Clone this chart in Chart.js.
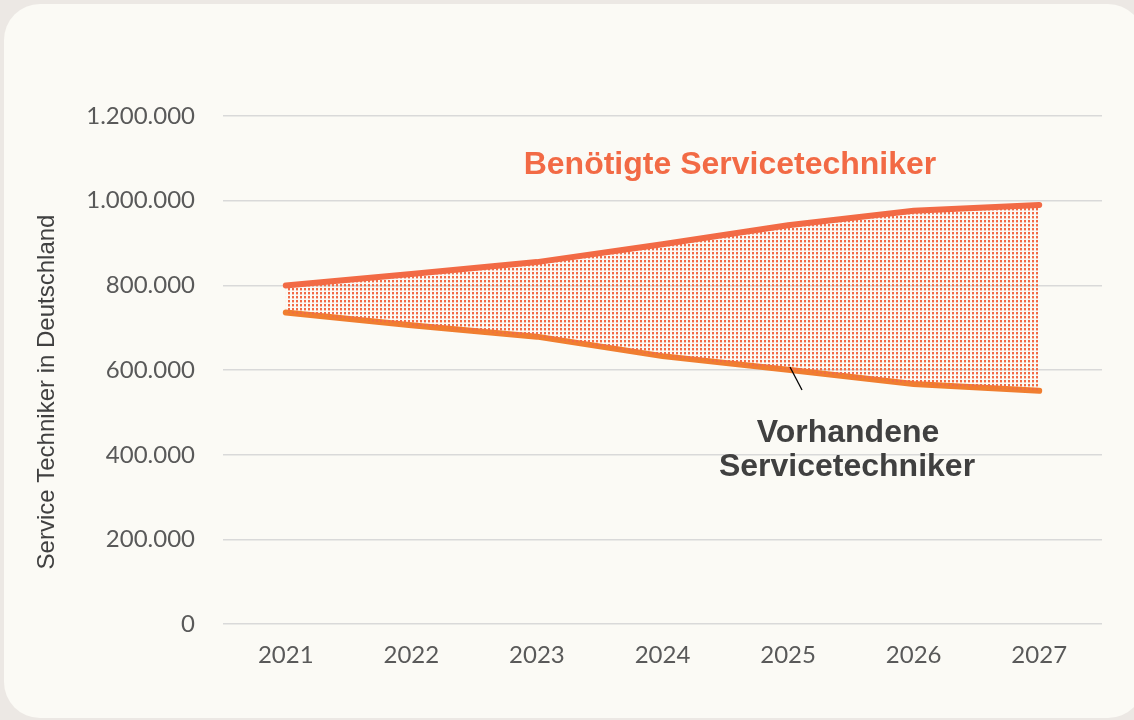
<!DOCTYPE html>
<html>
<head>
<meta charset="utf-8">
<script src="https://cdn.jsdelivr.net/npm/chart.js@4/dist/chart.umd.min.js"></script>
<style>
	html, body { margin: 0; padding: 0; background: #ece8e4; }
	#card {
		position: absolute; left: 4px; top: 4px; width: 1140px; height: 714px;
		background: #fbfaf5; border-radius: 36px;
	}
	#chart { position: absolute; left: 0; top: 0; }
</style>
</head>
<body>
<div id="card"></div>
<canvas id="chart" width="1134" height="720"></canvas>
<script>
// Data
const years = ['2021', '2022', '2023', '2024', '2025', '2026', '2027'];
const needed = [800000, 827000, 855000, 897000, 942000, 976000, 990000];
const available = [736000, 706000, 679000, 633000, 601000, 567000, 551000];

const NEEDED_COLOR = '#f26a45';
const AVAIL_COLOR = '#f07e30';

// Dotted fill between the two lines
const makePattern = () => {
	let tile = document.createElement('canvas');
	tile.width = 4;
	tile.height = 4;
	let ctx = tile.getContext('2d');
	ctx.fillStyle = '#f26a45';
	ctx.fillRect(0, 0, 2, 2);
	ctx.fillStyle = 'rgba(242,106,69,0.4)';
	ctx.fillRect(0, 2, 2, 1);
	return ctx.createPattern(tile, 'repeat');
};

// Text labels, leader line and axis title
const labelsPlugin = {
	id: 'labels',
	afterDatasetsDraw(chart) {
		let ctx = chart.ctx;
		ctx.save();
		ctx.textAlign = 'center';
		ctx.textBaseline = 'middle';
		ctx.font = 'bold 32px "Liberation Sans", Arial, sans-serif';
		ctx.fillStyle = NEEDED_COLOR;
		ctx.fillText('Benötigte Servicetechniker', 730, 165);

		ctx.fillStyle = '#404040';
		ctx.fillText('Vorhandene', 848, 433);
		ctx.fillText('Servicetechniker', 847, 467);

		ctx.strokeStyle = '#000';
		ctx.lineWidth = 1.3;
		ctx.beginPath();
		ctx.moveTo(790, 367);
		ctx.lineTo(802, 390);
		ctx.stroke();

		// y axis title
		ctx.translate(47, 392);
		ctx.rotate(-Math.PI / 2);
		ctx.font = '24px "Liberation Sans", Arial, sans-serif';
		ctx.fillStyle = '#404040';
		ctx.fillText('Service Techniker in Deutschland', 0, 0);
		ctx.restore();
	}
};

const fmt = new Intl.NumberFormat('de-DE');

new Chart(document.getElementById('chart'), {
	type: 'line',
	data: {
		labels: years,
		datasets: [
			{
				label: 'Benötigte Servicetechniker',
				data: needed,
				borderColor: NEEDED_COLOR,
				borderWidth: 6,
				borderCapStyle: 'round',
				pointRadius: 0,
				fill: '+1',
				backgroundColor: makePattern(),
			},
			{
				label: 'Vorhandene Servicetechniker',
				data: available,
				borderColor: AVAIL_COLOR,
				borderWidth: 6,
				borderCapStyle: 'round',
				pointRadius: 0,
				fill: false,
			}
		]
	},
	options: {
		responsive: false,
		animation: false,
		layout: { padding: { top: 116, right: 32, bottom: 41, left: 0 } },
		plugins: { legend: { display: false }, tooltip: { enabled: false } },
		scales: {
			x: {
				offset: true,
				grid: { display: false },
				border: { display: false },
				ticks: { color: '#595959', font: { family: 'Lato', size: 24 }, padding: 9 }
			},
			y: {
				min: 0,
				max: 1200000,
				afterFit: (scale) => { scale.width = 223; },
				grid: { color: '#d9d9d9', lineWidth: 1.5, drawTicks: false },
				border: { display: false },
				ticks: {
					stepSize: 200000,
					color: '#595959',
					font: { family: 'Lato', size: 24 },
					padding: 28,
					callback: (v) => fmt.format(v)
				}
			}
		}
	},
	plugins: [labelsPlugin]
});
</script>
</body>
</html>
